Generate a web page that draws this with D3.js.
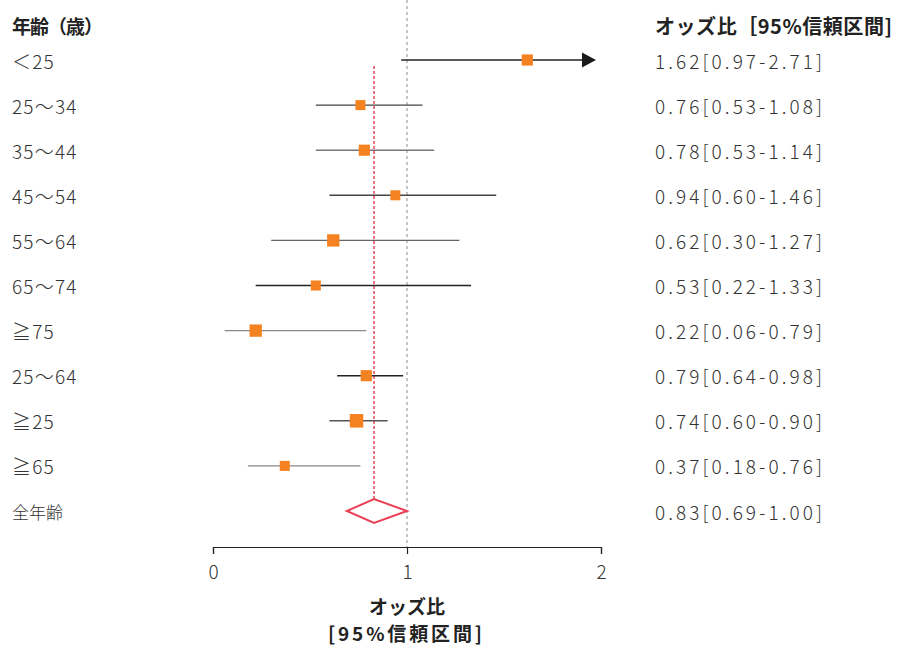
<!DOCTYPE html>
<html>
<head>
<meta charset="utf-8">
<script src="https://cdn.jsdelivr.net/npm/d3@7"></script>
<style>
  html, body { margin: 0; padding: 0; background: #fff; }
  svg { display: block; }
</style>
</head>
<body>
<svg id="chart" width="898" height="645"></svg>
<script>
// Odds ratio by age group, forest plot.
const groups = ['＜25', '25〜34', '35〜44', '45〜54', '55〜64', '65〜74', '≧75', '25〜64', '≧25', '≧65', '全年齢'];
const oddsRatio = [1.62, 0.76, 0.78, 0.94, 0.62, 0.53, 0.22, 0.79, 0.74, 0.37, 0.83];
const ciLow     = [0.97, 0.53, 0.53, 0.60, 0.30, 0.22, 0.06, 0.64, 0.60, 0.18, 0.69];
const ciHigh    = [2.71, 1.08, 1.14, 1.46, 1.27, 1.33, 0.79, 0.98, 0.90, 0.76, 1.00];
// relative study weight -> marker size
const weights   = [11, 10, 11, 10, 12, 10, 12, 11, 13, 10, 0];
const xTicks = [0, 1, 2];

const svg = d3.select('#chart');
const JP = '"Noto Sans CJK JP", "Noto Sans", sans-serif';

const x = d3.scaleLinear().domain([0, 2]).range([213, 601]);
const y = d3.scalePoint().domain(groups).range([60, 511]);
const size = d3.scaleLinear().domain([10, 13]).range([10, 13.5]);

const rows = groups.map((g, i) => ({
  group: g, or: oddsRatio[i], lo: ciLow[i], hi: ciHigh[i], w: weights[i],
  overall: i === groups.length - 1,
}));
const studies = rows.filter(d => !d.overall);
const total = rows[rows.length - 1];

// no-effect reference line
svg.append('line')
  .attr('x1', x(1)).attr('x2', x(1))
  .attr('y1', 0).attr('y2', 547)
  .attr('stroke', '#8a8a8a').attr('stroke-width', 1)
  .attr('stroke-dasharray', '3,3');

// pooled estimate line
svg.append('line')
  .attr('x1', x(total.or)).attr('x2', x(total.or))
  .attr('y1', 66).attr('y2', y(total.group) - 12)
  .attr('stroke', '#f07380').attr('stroke-width', 2)
  .attr('stroke-dasharray', '3,2');

// CI whiskers; ones running off the axis get an arrow
const lineCol = ['#222', '#444', '#777', '#444', '#666', '#222', '#888', '#222', '#555', '#888'];
const xMax = x.domain()[1];
svg.append('g').selectAll('line')
  .data(studies)
  .join('line')
  .attr('x1', d => x(d.lo))
  .attr('x2', d => x(Math.min(d.hi, xMax)) - (d.hi > xMax ? 8 : 0))
  .attr('y1', d => y(d.group)).attr('y2', d => y(d.group))
  .attr('stroke', (d, i) => lineCol[i])
  .attr('stroke-width', 1.4);

svg.append('g').selectAll('path')
  .data(studies.filter(d => d.hi > xMax))
  .join('path')
  .attr('d', d => {
    const tip = x(xMax) - 5, cy = y(d.group);
    return `M${tip},${cy}L${tip - 14},${cy - 7.5}L${tip - 14},${cy + 7.5}Z`;
  })
  .attr('fill', '#1a1a1a');

// point estimates
svg.append('g').selectAll('rect')
  .data(studies)
  .join('rect')
  .attr('x', d => x(d.or) - size(d.w) / 2)
  .attr('y', d => y(d.group) - size(d.w) / 2)
  .attr('width', d => size(d.w))
  .attr('height', d => size(d.w))
  .attr('fill', '#f58220');

// pooled diamond
{
  const cy = y(total.group), hh = 12;
  svg.append('path')
    .attr('d', `M${x(total.lo)},${cy}L${x(total.or)},${cy - hh}L${x(total.hi)},${cy}L${x(total.or)},${cy + hh}Z`)
    .attr('fill', '#fff')
    .attr('stroke', '#ea4055').attr('stroke-width', 2);
}

// left labels
svg.append('text')
  .attr('x', 12).attr('y', 25)
  .attr('dominant-baseline', 'central')
  .attr('font-family', JP).attr('font-weight', 700)
  .attr('font-size', 19).attr('fill', '#222')
  .attr('letter-spacing', -1)
  .text('年齢（歳）');

svg.append('g').selectAll('text')
  .data(rows)
  .join('text')
  .attr('x', 12).attr('y', d => y(d.group))
  .attr('dominant-baseline', 'central')
  .attr('font-family', JP).attr('font-weight', 300)
  .attr('font-size', d => d.overall ? 17 : 19)
  .attr('letter-spacing', d => d.overall ? 0 : 1.2)
  .attr('fill', '#333')
  .text(d => d.group);

// right labels
svg.append('text')
  .attr('x', 655).attr('y', 25)
  .attr('dominant-baseline', 'central')
  .attr('font-family', JP).attr('font-weight', 700)
  .attr('font-size', 20).attr('fill', '#222')
  .attr('textLength', 237).attr('lengthAdjust', 'spacing')
  .text('オッズ比［95%信頼区間]');

const fmt = d3.format('.2f');
svg.append('g').selectAll('text')
  .data(rows)
  .join('text')
  .attr('x', 655).attr('y', d => y(d.group))
  .attr('dominant-baseline', 'central')
  .attr('font-family', JP).attr('font-weight', 300)
  .attr('font-size', 19).attr('fill', '#333')
  .attr('textLength', 167).attr('lengthAdjust', 'spacing')
  .text(d => `${fmt(d.or)}[${fmt(d.lo)}-${fmt(d.hi)}]`);

// axis
const axis = svg.append('g')
  .attr('transform', 'translate(0,547)')
  .call(d3.axisBottom(x).tickValues(xTicks).tickFormat(d3.format('d')).tickSize(7).tickSizeOuter(7));
axis.select('.domain').attr('stroke', '#222').attr('stroke-width', 1.2);
axis.selectAll('.tick line').attr('stroke', '#222').attr('stroke-width', 1.2);
axis.selectAll('.tick text')
  .attr('y', 25).attr('dy', '0.35em')
  .attr('font-family', JP).attr('font-weight', 300)
  .attr('font-size', 19).attr('fill', '#333');

svg.append('text')
  .attr('x', x(1)).attr('y', 605)
  .attr('text-anchor', 'middle').attr('dominant-baseline', 'central')
  .attr('font-family', JP).attr('font-weight', 700)
  .attr('font-size', 19).attr('fill', '#222')
  .text('オッズ比');
svg.append('text')
  .attr('x', 328).attr('y', 632)
  .attr('dominant-baseline', 'central')
  .attr('font-family', JP).attr('font-weight', 700)
  .attr('font-size', 19).attr('fill', '#222')
  .attr('textLength', 154).attr('lengthAdjust', 'spacing')
  .text('[95%信頼区間]');
</script>
</body>
</html>
